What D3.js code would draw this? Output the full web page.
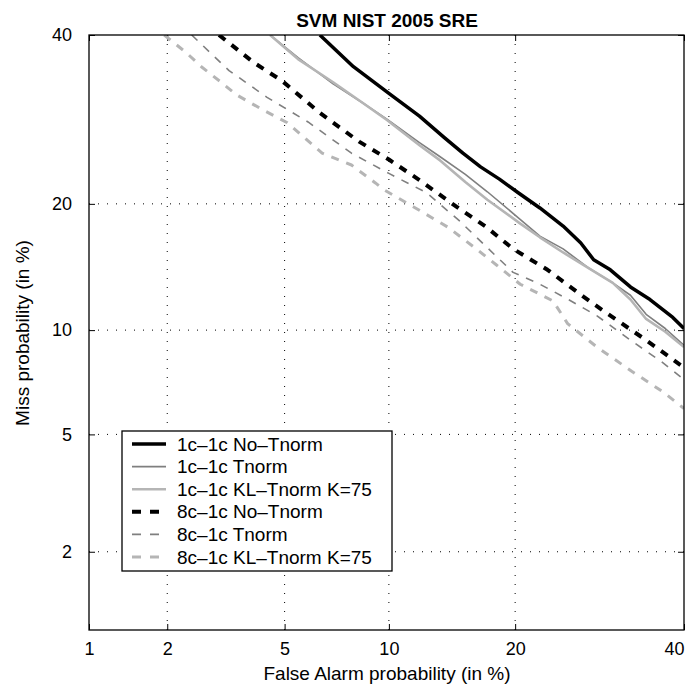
<!DOCTYPE html>
<html><head><meta charset="utf-8">
<script src="https://cdn.jsdelivr.net/npm/d3@7"></script>
<style>body{margin:0;background:#fff}svg{display:block}text{font-family:"Liberation Sans",Arial,sans-serif}</style>
</head><body><div id="chart"></div>
<script>
// ---- data (percent) ----
const title = "SVM NIST 2005 SRE";
const xTicks = [1, 2, 5, 10, 20, 40];
const yTicks = [2, 5, 10, 20, 40];
const seriesNames = ["1c–1c No–Tnorm","1c–1c Tnorm","1c–1c KL–Tnorm K=75","8c–1c No–Tnorm","8c–1c Tnorm","8c–1c KL–Tnorm K=75"];

const fa_1c_noT   = [6.4, 8, 10, 12, 13.8, 15.3, 16.8, 18.5, 20.3, 22.5, 25, 27, 28.5, 30.5, 33, 35.5, 38.5, 40];
const miss_1c_noT = [40, 35.8, 32.4, 29.6, 27.1, 25.3, 23.8, 22.5, 21.1, 19.6, 17.9, 16.4, 15, 14.2, 12.9, 12.0, 10.8, 10.1];

const fa_1c_T   = [4.5, 5.5, 7, 8.5, 9.9, 12, 13.5, 15.5, 17.4, 20.4, 22.5, 25, 28, 30.8, 33, 35, 37.5, 40];
const miss_1c_T = [40, 37, 33.6, 31.2, 29.2, 26.5, 24.9, 23, 21.2, 18.6, 17, 15.9, 14.3, 13.2, 12.3, 11, 10.1, 9.1];

const fa_1c_KL   = [4.5, 5.5, 7, 8.5, 9.9, 12, 13.5, 15.5, 17.4, 20.4, 22.5, 25, 28, 30.8, 33, 35, 37.5, 40];
const miss_1c_KL = [40, 36.8, 33.8, 31.2, 29.1, 26.2, 24.5, 22.2, 20.4, 18.2, 16.9, 15.6, 14.3, 13.2, 12.0, 10.7, 9.9, 9.0];

const fa_8c_noT   = [3.05, 4.0, 4.9, 6.4, 8.3, 10, 12, 14.8, 17.2, 19.8, 23.3, 27.3, 30, 35, 40];
const miss_8c_noT = [40, 36.3, 34, 30, 26.6, 24.6, 22.4, 19.7, 17.9, 15.9, 14.2, 12.2, 11.1, 9.4, 7.9];

const fa_8c_T   = [2.45, 3.3, 4.4, 5.9, 7.9, 10, 12.5, 15, 17.4, 19.8, 22.5, 25.6, 28.9, 33, 37, 40];
const miss_8c_T = [40, 35.3, 31.9, 28.9, 25.3, 23.1, 21.1, 18.4, 16, 14, 13.1, 12, 10.9, 9.4, 8.2, 7.3];

const fa_8c_KL   = [1.95, 2.35, 2.65, 3.1, 3.5, 4.2, 5.1, 6.5, 7.9, 9.2, 9.7, 11.6, 14.1, 16.3, 18.2, 20.5, 23.9, 25.5, 28.9, 33.2, 37.3, 40];
const miss_8c_KL = [40, 37.6, 35.8, 33.8, 32.2, 30.5, 28.8, 25.3, 24, 22.1, 21.4, 19.7, 17.8, 16, 14.6, 13.1, 11.9, 10.4, 9, 7.7, 6.7, 6.0];

const faSeries   = [fa_1c_noT, fa_1c_T, fa_1c_KL, fa_8c_noT, fa_8c_T, fa_8c_KL];
const missSeries = [miss_1c_noT, miss_1c_T, miss_1c_KL, miss_8c_noT, miss_8c_T, miss_8c_KL];

// ---- styles ----
const styles = [
  {color:"#000000", width:3.5, dash:null},
  {color:"#7f7f7f", width:1.6, dash:null},
  {color:"#b5b5b5", width:2.6, dash:null},
  {color:"#000000", width:4,   dash:"8,8"},
  {color:"#7f7f7f", width:1.6, dash:"8,8"},
  {color:"#b5b5b5", width:3,   dash:"8,8"}
];

// inverse normal CDF (Acklam)
function probit(p){
  const a=[-3.969683028665376e+01,2.209460984245205e+02,-2.759285104469687e+02,1.383577518672690e+02,-3.066479806614716e+01,2.506628277459239e+00];
  const b=[-5.447609879822406e+01,1.615858368580409e+02,-1.556989798598866e+02,6.680131188771972e+01,-1.328068155288572e+01];
  const c=[-7.784894002430293e-03,-3.223964580411365e-01,-2.400758277161838e+00,-2.549732539343734e+00,4.374664141464968e+00,2.938163982698783e+00];
  const d=[7.784695709041462e-03,3.224671290700398e-01,2.445134137142996e+00,3.754408661907416e+00];
  const pl=0.02425, ph=1-pl; let q,r;
  if(p<pl){q=Math.sqrt(-2*Math.log(p));return (((((c[0]*q+c[1])*q+c[2])*q+c[3])*q+c[4])*q+c[5])/((((d[0]*q+d[1])*q+d[2])*q+d[3])*q+1);}
  if(p<=ph){q=p-0.5;r=q*q;return (((((a[0]*r+a[1])*r+a[2])*r+a[3])*r+a[4])*r+a[5])*q/(((((b[0]*r+b[1])*r+b[2])*r+b[3])*r+b[4])*r+1);}
  q=Math.sqrt(-2*Math.log(1-p));return -(((((c[0]*q+c[1])*q+c[2])*q+c[3])*q+c[4])*q+c[5])/((((d[0]*q+d[1])*q+d[2])*q+d[3])*q+1);
}
const pr = v => probit(v/100);

const W=688,H=688, L=89, R=684, T=35, B=630;
const x = d3.scaleLinear().domain([pr(1), pr(40)]).range([L, R]);
const y = d3.scaleLinear().domain([pr(1), pr(40)]).range([B, T]);

const svg = d3.select("#chart").append("svg").attr("width",W).attr("height",H);
svg.append("defs").append("clipPath").attr("id","clip").append("rect")
  .attr("x",L).attr("y",T).attr("width",R-L).attr("height",B-T);

// grid
const g = svg.append("g");
xTicks.filter(t=>t>1 && t<40).forEach(t=>{
  g.append("line").attr("x1",x(pr(t))).attr("x2",x(pr(t))).attr("y1",T).attr("y2",B)
   .attr("stroke","#000").attr("stroke-width",1).attr("stroke-dasharray","1,8");
});
yTicks.filter(t=>t<40).forEach(t=>{
  g.append("line").attr("y1",y(pr(t))).attr("y2",y(pr(t))).attr("x1",L).attr("x2",R)
   .attr("stroke","#000").attr("stroke-width",1).attr("stroke-dasharray","1,8");
});

// axes (ticks inside, all four sides)
const fs = 18;
const xAxB = d3.axisBottom(x).tickValues(xTicks.map(pr)).tickFormat((d,i)=>xTicks[i]).tickSizeInner(-6).tickSizeOuter(0).tickPadding(12);
const xAxT = d3.axisTop(x).tickValues(xTicks.map(pr)).tickFormat("").tickSizeInner(-6).tickSizeOuter(0);
const yAxL = d3.axisLeft(y).tickValues(yTicks.map(pr)).tickFormat((d,i)=>yTicks[i]).tickSizeInner(-6).tickSizeOuter(0).tickPadding(17);
const yAxR = d3.axisRight(y).tickValues(yTicks.map(pr)).tickFormat("").tickSizeInner(-6).tickSizeOuter(0);
[[xAxB,`translate(0,${B})`],[xAxT,`translate(0,${T})`],[yAxL,`translate(${L},0)`],[yAxR,`translate(${R},0)`]].forEach(([ax,tr])=>{
  const a = svg.append("g").attr("transform",tr).call(ax);
  a.select(".domain").remove();
  a.selectAll("text").attr("font-size",fs).attr("fill","#000").attr("font-family","Liberation Sans, Arial, sans-serif");
  a.selectAll("line").attr("stroke","#000");
});
// last x tick label right-aligned to the frame edge (as in reference)
svg.selectAll("g.tick text").filter(function(){ return this.textContent==="40" && this.getAttribute("dy")==="0.71em"; })
  .attr("text-anchor","end");

// curves
const line = d3.line().x(d=>x(pr(d[0]))).y(d=>y(pr(d[1])));
const cg = svg.append("g").attr("clip-path","url(#clip)");
faSeries.forEach((fa,i)=>{
  const pts = fa.map((f,j)=>[f, missSeries[i][j]]);
  cg.append("path").datum(pts).attr("d",line).attr("fill","none")
    .attr("stroke",styles[i].color).attr("stroke-width",styles[i].width)
    .attr("stroke-dasharray",styles[i].dash).attr("stroke-linejoin","round");
});

// frame
svg.append("rect").attr("x",L).attr("y",T).attr("width",R-L).attr("height",B-T)
  .attr("fill","none").attr("stroke","#000").attr("stroke-width",1.3);

// legend
const lg = svg.append("g");
lg.append("rect").attr("x",122).attr("y",431).attr("width",270).attr("height",140)
  .attr("fill","#fff").attr("stroke","#000").attr("stroke-width",1.3);
seriesNames.forEach((n,i)=>{
  const yy = 444 + i*22.6;
  lg.append("line").attr("x1",132).attr("x2",166).attr("y1",yy).attr("y2",yy)
    .attr("stroke",styles[i].color).attr("stroke-width",styles[i].width)
    .attr("stroke-dasharray",styles[i].dash ? "9,9" : null);
  lg.append("text").attr("x",177).attr("y",yy).attr("dy","0.35em").attr("font-size",19).text(n);
});

// titles
svg.append("text").attr("x",387).attr("y",20).attr("dy","0.35em").attr("text-anchor","middle")
  .attr("font-size",19).attr("font-weight","bold").text(title);
svg.append("text").attr("x",387).attr("y",673).attr("dy","0.35em").attr("text-anchor","middle")
  .attr("font-size",19).text("False Alarm probability (in %)");
svg.append("text").attr("transform","translate(22,333) rotate(-90)").attr("dy","0.35em").attr("text-anchor","middle")
  .attr("font-size",19).text("Miss probability (in %)");
</script></body></html>
